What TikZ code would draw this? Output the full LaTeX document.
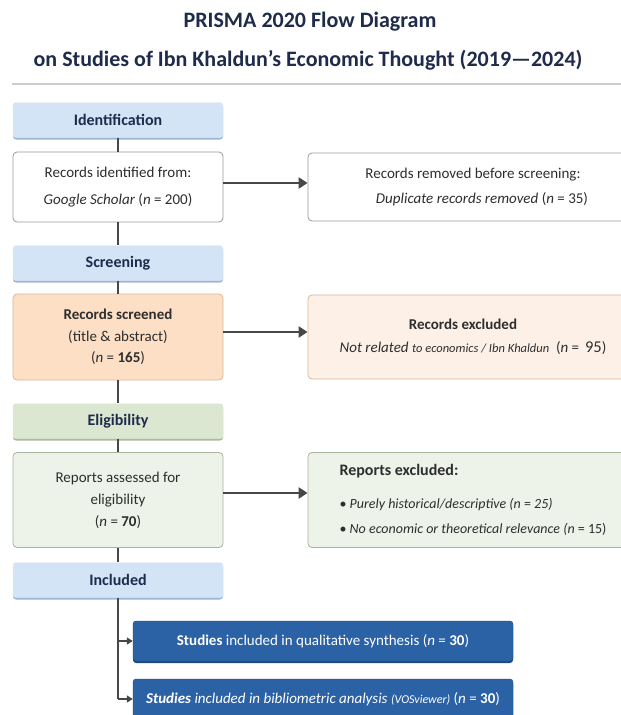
\documentclass[tikz,border=0pt]{standalone}
\usepackage{fontspec}
\setmainfont{Carlito}
\usetikzlibrary{arrows.meta,shadows}
\definecolor{navy}{HTML}{1E2B4A}
\definecolor{txt}{HTML}{2E2E2E}
\definecolor{hdrblue}{HTML}{D3E4F6}
\definecolor{hdrbluedk}{HTML}{9DB8D6}
\definecolor{hdrgreen}{HTML}{DCE7D2}
\definecolor{hdrgreendk}{HTML}{A9BC9B}
\definecolor{boxline}{HTML}{9A9A9A}
\definecolor{orangefill}{HTML}{FCDFC5}
\definecolor{orangeline}{HTML}{D9B89A}
\definecolor{orangelight}{HTML}{FDF1E7}
\definecolor{greenfill}{HTML}{EEF3E9}
\definecolor{greenline}{HTML}{A7B39D}
\definecolor{incblue}{HTML}{2B62A6}
\definecolor{incbluedk}{HTML}{1E4A80}
\definecolor{conn}{HTML}{474747}
\tikzset{
  hdr/.style={rectangle, rounded corners=3pt, minimum width=210pt, minimum height=35pt,
    font=\fontsize{16}{18}\selectfont\bfseries, text=navy},
  bluehdr/.style={hdr, fill=hdrblue, draw=hdrblue!80!black!30,
    drop shadow={shadow xshift=0pt, shadow yshift=-2pt, fill=hdrbluedk, opacity=1}},
  greenhdr/.style={hdr, fill=hdrgreen, draw=hdrgreen!80!black!30,
    drop shadow={shadow xshift=0pt, shadow yshift=-2pt, fill=hdrgreendk, opacity=1}},
  mainbox/.style={rectangle, rounded corners=4pt, minimum width=210pt, draw=boxline, line width=0.8pt,
    align=center, text=txt, font=\fontsize{15}{27}\selectfont},
  sidebox/.style={rectangle, rounded corners=4pt, minimum width=330pt, draw=boxline, line width=0.8pt,
    text=txt, font=\fontsize{15}{25}\selectfont},
  incbox/.style={rectangle, rounded corners=3pt, minimum width=380pt, minimum height=40pt,
    fill=incblue, draw=incbluedk, text=white, font=\fontsize{15}{17}\selectfont,
    drop shadow={shadow xshift=0pt, shadow yshift=-2pt, fill=incbluedk, opacity=1}},
  vline/.style={draw=conn, line width=1.6pt},
  harrow/.style={draw=conn, line width=2.6pt, -{Triangle[length=9pt,width=11pt]}},
  iarrow/.style={draw=conn, line width=1.6pt, -{Triangle[length=6pt,width=7pt]}},
}
\begin{document}
\begin{tikzpicture}[x=1pt,y=-1pt]
\useasboundingbox (0,0) rectangle (621,715);
\fill[white] (0,0) rectangle (621,715);
% title
\node[font=\fontsize{22}{24}\selectfont\bfseries, text=navy] (t1) at (310,22) {PRISMA 2020 Flow Diagram};
\node[font=\fontsize{22}{24}\selectfont\bfseries, text=navy] (t2) at (308,60) {on Studies of Ibn Khaldun's Economic Thought (2019—2024)};
\coordinate (rl) at (12,84);
\coordinate (rr) at (621,84);
\draw[line width=1.6pt, draw=black!20] (rl) -- (rr);

% left column
\node[bluehdr] (idh) at (118,120) {Identification};
\node[mainbox, fill=white, minimum height=70pt] (rid) at (118,187)
  {Records identified from:\\ \textit{Google Scholar} (\textit{n} = 200)};
\node[bluehdr] (scrh) at (118,263) {Screening};
\node[mainbox, fill=orangefill, draw=orangeline, minimum height=86pt, font=\fontsize{15}{21.5}\selectfont] (scr) at (118,337)
  {\textbf{Records screened}\\ (title \& abstract)\\ (\textit{n} = \textbf{165})};
\node[greenhdr] (elh) at (118,421) {Eligibility};
\node[mainbox, fill=greenfill, draw=greenline, minimum height=95pt, font=\fontsize{15}{22}\selectfont] (rep) at (118,500)
  {Reports assessed for\\ eligibility\\ (\textit{n} = \textbf{70})};
\node[bluehdr] (inch) at (118,580) {Included};

% right column (boxes run past the right edge)
\node[sidebox, fill=white, minimum height=68pt, align=center] (rem) at (473,187)
  {Records removed before screening:\\ \hspace*{18pt}\textit{Duplicate records removed} (\textit{n} = 35)};
\node[sidebox, fill=orangelight, draw=orangeline, minimum height=84pt, align=center, font=\fontsize{15}{23}\selectfont] (exc) at (473,337)
  {\textbf{Records excluded}\hspace*{20pt}\\ \textit{Not related {\fontsize{12.5}{15}\selectfont to economics / Ibn Khaldun}} \ (\textit{n} = \,{\fontsize{16.5}{18}\selectfont 95})};
\node[sidebox, fill=greenfill, draw=greenline, minimum height=95pt, align=left, font=\fontsize{14}{25}\selectfont] (rex) at (473,500)
  {{\fontsize{16}{18}\selectfont\textbf{Reports excluded:}}\\[8pt] \textbullet\ \textit{Purely historical/descriptive (n} = \textit{25)}\\ \textbullet\ \textit{No economic or theoretical relevance (n} = 15)};

% included boxes
\node[incbox] (qual) at (323,641) {\textbf{Studies} included in qualitative synthesis (\textit{n} = \textbf{30})};
\node[incbox] (bib) at (323,699) {\textbf{\textit{Studies}} \textit{included in bibliometric analysis} {\fontsize{12}{14}\selectfont\textit{(VOSviewer)}} (\textit{n} = \textbf{30})};

% connectors
\draw[vline] (idh.south) -- (rid.north);
\draw[vline] (rid.south) -- (scrh.north);
\draw[vline] (scrh.south) -- (scr.north);
\draw[vline] (scr.south) -- (elh.north);
\draw[vline] (elh.south) -- (rep.north);
\draw[vline] (rep.south) -- (inch.north);
\draw[harrow] ([yshift=4pt]rid.east) -- ([yshift=4pt]rid.east -| rem.west);
\draw[harrow] ([yshift=5pt]scr.east) -- ([yshift=5pt]scr.east -| exc.west);
\draw[harrow] ([yshift=7pt]rep.east) -- ([yshift=7pt]rep.east -| rex.west);
\draw[vline] (inch.south) -- (inch.south |- bib.west);
\draw[iarrow] (inch.south |- qual.west) -- (qual.west);
\draw[iarrow] (inch.south |- bib.west) -- (bib.west);
\end{tikzpicture}
\end{document}
